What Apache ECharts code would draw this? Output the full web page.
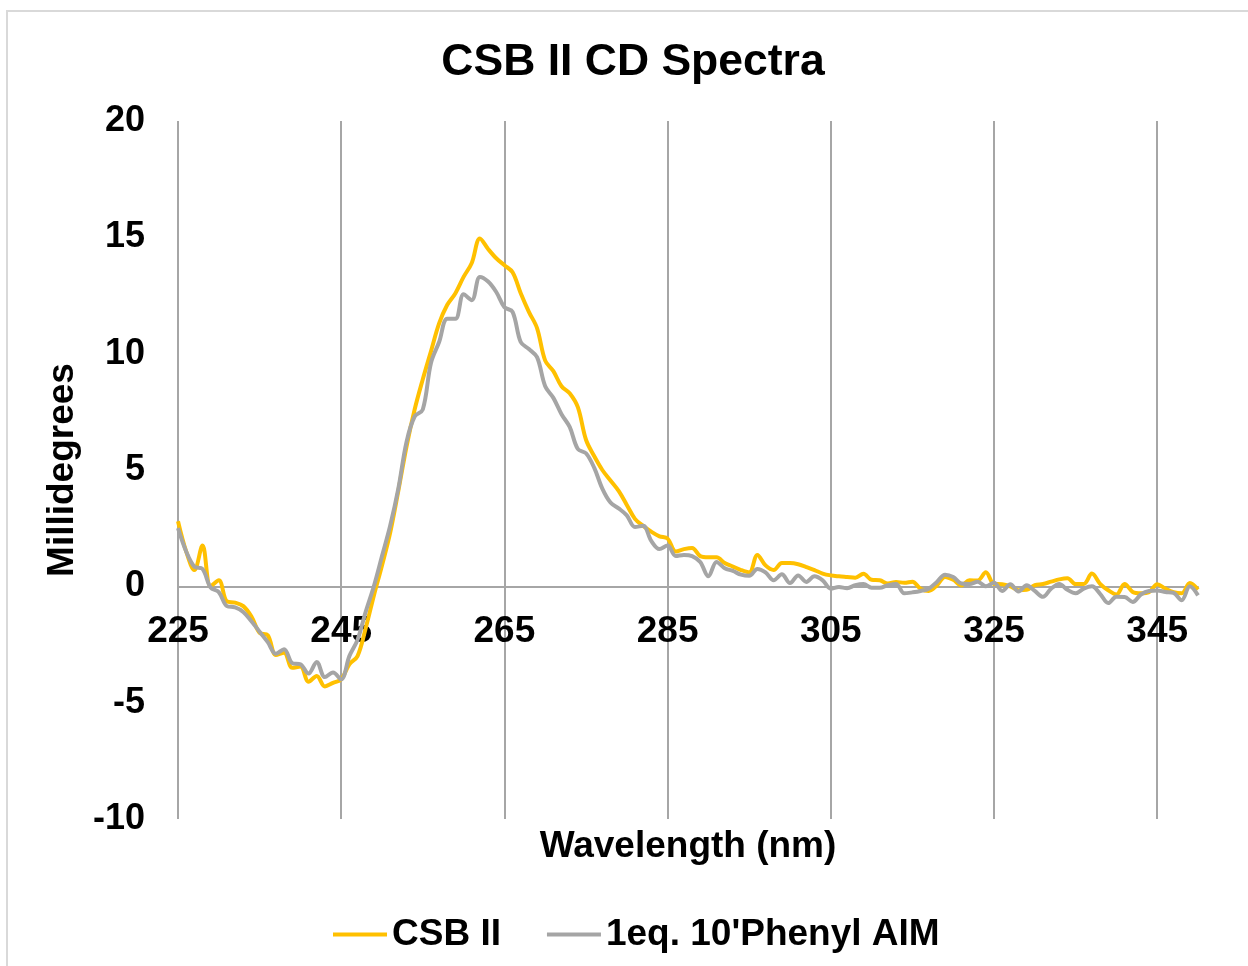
<!DOCTYPE html>
<html>
<head>
<meta charset="utf-8">
<title>CSB II CD Spectra</title>
<script src="https://cdn.jsdelivr.net/npm/echarts@6/dist/echarts.min.js"></script>
<style>
  html, body { margin: 0; padding: 0; background: #ffffff; }
  #chart { width: 1248px; height: 966px; }
</style>
</head>
<body>
<div id="chart"></div>
<script>
// Wavelength grid, 1 nm steps from 225 to 350 nm
const wavelengths = Array.from({ length: 126 }, (_, i) => 225 + i);

// CD signal (millidegrees), CSB II alone
const csbII = [
  2.8, 1.5, 0.7, 1.75, 0.0, 0.26, -0.65, -0.7, -0.85, -1.3,
  -2.0, -2.1, -2.95, -2.85, -3.5, -3.45, -4.1, -3.85, -4.3, -4.15,
  -4.0, -3.35, -3.0, -1.8, -0.4, 0.9, 2.3, 4.1, 6.0, 7.6,
  8.9, 10.1, 11.3, 12.1, 12.6, 13.3, 13.9, 14.95, 14.5, 14.1,
  13.8, 13.5, 12.6, 11.8, 11.1, 9.7, 9.25, 8.6, 8.3, 7.7,
  6.3, 5.6, 5.0, 4.55, 4.1, 3.5, 2.9, 2.6, 2.35, 2.15,
  2.05, 1.5, 1.6, 1.65, 1.3, 1.25, 1.25, 1.0, 0.85, 0.7,
  0.6, 1.35, 0.9, 0.7, 1.0, 1.0, 0.95, 0.83, 0.7, 0.55,
  0.47, 0.43, 0.4, 0.37, 0.54, 0.28, 0.26, 0.12, 0.19, 0.15,
  0.2, -0.1, -0.2, 0.04, 0.4, 0.28, 0.04, 0.26, 0.25, 0.6,
  0.1, 0.09, 0.0, -0.17, -0.15, 0.05, 0.1, 0.2, 0.3, 0.35,
  0.1, 0.1, 0.55, 0.11, -0.17, -0.35, 0.1, -0.24, -0.3, -0.25,
  0.09, -0.1, -0.25, -0.3, 0.14, -0.14
];

// CD signal (millidegrees), CSB II with 1 eq. 10'Phenyl AIM
const phenylAIM = [
  2.5, 1.5, 0.85, 0.75, -0.05, -0.25, -0.85, -0.9, -1.1, -1.5,
  -1.95, -2.4, -2.9, -2.7, -3.3, -3.35, -3.75, -3.25, -3.9, -3.7,
  -4.0, -3.0, -2.3, -1.1, 0.0, 1.3, 2.6, 4.2, 6.2, 7.3,
  7.6, 9.6, 10.5, 11.5, 11.5, 12.55, 12.3, 13.3, 13.1, 12.65,
  12.0, 11.8, 10.5, 10.2, 9.85, 8.6, 8.1, 7.4, 6.85, 5.9,
  5.72, 5.1, 4.2, 3.6, 3.35, 3.05, 2.55, 2.6, 1.95, 1.6,
  1.75, 1.3, 1.35, 1.3, 1.05, 0.43, 1.05, 0.78, 0.66, 0.5,
  0.45, 0.75, 0.6, 0.26, 0.52, 0.14, 0.47, 0.19, 0.43, 0.26,
  -0.1, -0.03, -0.08, 0.05, 0.1, -0.06, -0.06, 0.05, 0.1, -0.3,
  -0.26, -0.2, -0.1, 0.19, 0.5, 0.4, 0.12, 0.1, 0.2, 0.0,
  0.15, -0.2, 0.09, -0.22, 0.05, -0.2, -0.45, -0.1, 0.1, -0.15,
  -0.3, -0.1, 0.0, -0.32, -0.72, -0.45, -0.46, -0.67, -0.35, -0.2,
  -0.18, -0.24, -0.28, -0.6, 0.0, -0.39
];

const seriesNames = ['CSB II', "1eq. 10'Phenyl AIM"];
const seriesColors = ['#FFC000', '#A5A5A5'];

const FONT = '"Liberation Sans", Arial, sans-serif';
const GRID_GRAY = '#A6A6A6';

// Plot box in pixels; the wavelength axis sits on the zero line
const PLOT = { left: 178, right: 50, top: 121, bottom: 147 };
const Y_MIN = -10, Y_MAX = 20;
const plotHeight = 966 - PLOT.top - PLOT.bottom;
const zeroOffset = -plotHeight * (0 - Y_MIN) / (Y_MAX - Y_MIN);

const pairs = (ys) => wavelengths.map((x, i) => [x, ys[i]]);

const chart = echarts.init(document.getElementById('chart'), null, { renderer: 'canvas' });

chart.setOption({
  backgroundColor: '#ffffff',
  animation: false,
  title: {
    text: 'CSB II CD Spectra',
    left: 628,
    textAlign: 'center',
    top: 35,
    textStyle: { fontFamily: FONT, fontWeight: 'bold', fontSize: 44.5, color: '#000000' }
  },
  legend: {
    data: seriesNames,
    left: 328,
    top: 911,
    itemWidth: 54,
    itemHeight: 4,
    itemGap: 46,
    icon: 'rect',
    textStyle: { fontFamily: FONT, fontWeight: 'bold', fontSize: 37, color: '#000000' }
  },
  grid: { left: PLOT.left, right: PLOT.right, top: PLOT.top, bottom: PLOT.bottom, containLabel: false },
  xAxis: {
    type: 'value',
    min: 225,
    max: 350,
    interval: 20,
    offset: zeroOffset,
    axisLine: { onZero: false, lineStyle: { color: GRID_GRAY, width: 2 } },
    axisTick: { show: false },
    axisLabel: {
      margin: 27,
      showMaxLabel: false,
      fontFamily: FONT, fontWeight: 'bold', fontSize: 37, color: '#000000'
    },
    splitLine: { show: true, showMaxLine: false, lineStyle: { color: GRID_GRAY, width: 2 } }
  },
  yAxis: {
    type: 'value',
    min: Y_MIN,
    max: Y_MAX,
    interval: 5,
    axisLine: { show: false },
    axisTick: { show: false },
    splitLine: { show: false },
    axisLabel: {
      margin: 33,
      fontFamily: FONT, fontWeight: 'bold', fontSize: 36, color: '#000000'
    }
  },
  graphic: [
    {
      type: 'rect',
      silent: true,
      shape: { x: 7, y: 11, width: 1260, height: 980 },
      style: { fill: 'none', stroke: '#D9D9D9', lineWidth: 2 }
    },
    {
      type: 'text',
      x: 63, y: 470,
      rotation: Math.PI / 2,
      style: {
        text: 'Millidegrees',
        fontFamily: FONT, fontWeight: 'bold', fontSize: 37, fill: '#000000',
        align: 'center', verticalAlign: 'middle'
      }
    },
    {
      type: 'text',
      x: 688, y: 847,
      style: {
        text: 'Wavelength (nm)',
        fontFamily: FONT, fontWeight: 'bold', fontSize: 37, fill: '#000000',
        align: 'center', verticalAlign: 'middle'
      }
    }
  ],
  series: [
    {
      name: seriesNames[0],
      type: 'line',
      data: pairs(csbII),
      smooth: 0.35,
      symbol: 'none',
      z: 2,
      lineStyle: { color: seriesColors[0], width: 4 },
      itemStyle: { color: seriesColors[0] }
    },
    {
      name: seriesNames[1],
      type: 'line',
      data: pairs(phenylAIM),
      smooth: 0.35,
      symbol: 'none',
      z: 3,
      lineStyle: { color: seriesColors[1], width: 4 },
      itemStyle: { color: seriesColors[1] }
    }
  ]
});
</script>
</body>
</html>
